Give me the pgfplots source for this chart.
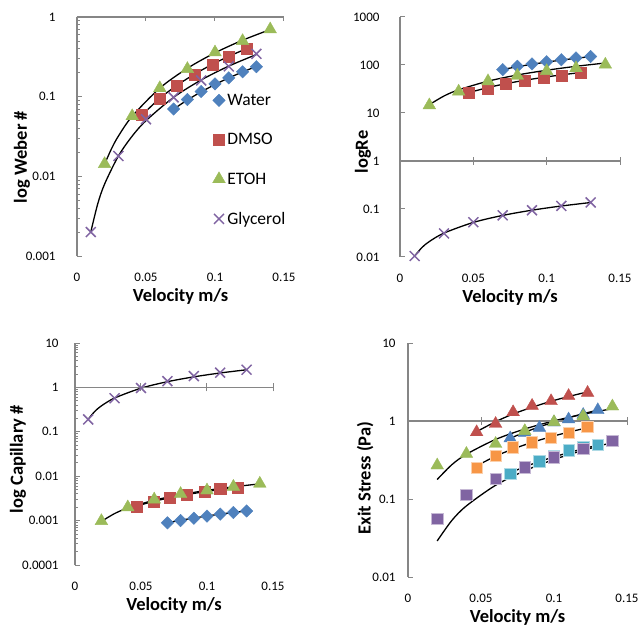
\documentclass[border=0pt]{standalone}
\usepackage{pgfplots}
\pgfplotsset{compat=1.18}
\usepackage{fontspec}
\setmainfont{Carlito}
\definecolor{cW}{HTML}{4F81BD}
\definecolor{cD}{HTML}{C0504D}
\definecolor{cE}{HTML}{9BBB59}
\definecolor{cG}{HTML}{8064A2}
\definecolor{cC}{HTML}{4BACC6}
\definecolor{cO}{HTML}{F79646}
\definecolor{axgrey}{HTML}{868686}
\tikzset{
  hline/.style={axgrey, line width=1.3pt},
  htick/.style={axgrey, line width=1pt},
}
\pgfplotsset{
  mypanel/.style={
    scale only axis, clip=false,
    xmin=0, xmax=0.15,
    axis lines*=left,
    x axis line style={draw=none},
    y axis line style={draw=axgrey, line width=1.3pt},
    x tick style={draw=none},
    y tick style={draw=axgrey, line width=1pt},
    minor y tick style={draw=axgrey, line width=0.8pt},
    tick align=inside,
    major tick length=5pt, minor tick length=3pt,
    xtick={0,0.05,0.1,0.15}, xticklabels={0,0.05,0.1,0.15},
    xticklabel style={anchor=center, yshift=-21pt, font=\fontsize{13pt}{15pt}\selectfont},
    yticklabel style={anchor=east, font=\fontsize{13pt}{15pt}\selectfont},
    xlabel={Velocity m/s},
    xlabel style={at={(axis description cs:0.5,0)}, anchor=center, yshift=-40pt, font=\bfseries\fontsize{18.5pt}{20pt}\selectfont},
    ylabel style={anchor=center, font=\bfseries\fontsize{18.5pt}{20pt}\selectfont},
  },
  sW/.style={only marks, mark=square*, mark size=4.4pt, mark options={rotate=45}, color=cW},
  sD/.style={only marks, mark=square*, mark size=5.5pt, color=cD},
  sE/.style={only marks, mark=triangle*, mark size=7.3pt, color=cE},
  sG/.style={only marks, mark=x, mark size=7pt, color=cG, line width=1.5pt},
  tr/.style={black, line width=1.3pt, smooth, no marks, forget plot},
  bx/.style={only marks, mark=square*, mark size=5.7pt, color=#1, mark options={draw=#1!45!white, line width=0.8pt}},
  tx/.style={only marks, mark=triangle*, mark size=7.3pt, color=#1},
}
\begin{document}
\begin{tikzpicture}
\useasboundingbox (0,0) rectangle (638pt,-628pt);
% ---------------- Panel 1: Weber ----------------
\begin{semilogyaxis}[mypanel, at={(77pt,-256pt)}, anchor=south west, width=207pt, height=239pt,
  ymin=0.001, ymax=1, ytick={0.001,0.01,0.1,1}, yticklabels={0.001,0.01,0.1,1},
  minor ytick={0.002,0.003,0.004,0.005,0.006,0.007,0.008,0.009,0.02,0.03,0.04,0.05,0.06,0.07,0.08,0.09,0.2,0.3,0.4,0.5,0.6,0.7,0.8,0.9},
  yticklabel style={xshift=-18pt},
  ylabel={log Weber \#}, ylabel style={at={(axis description cs:-0.266,0.414)}},
  legend style={at={(axis description cs:0.64,0.695)}, anchor=north west, draw=none, fill=none,
    font=\fontsize{17.5pt}{19pt}\selectfont, row sep=22.5pt},
  legend cell align=left]
\addplot[sW] coordinates {(0.07,0.070)(0.08,0.092)(0.09,0.116)(0.1,0.145)(0.11,0.172)(0.12,0.205)(0.13,0.238)};
\addplot[sD] coordinates {(0.047,0.060)(0.06,0.094)(0.072,0.136)(0.085,0.19)(0.098,0.255)(0.11,0.322)(0.123,0.395)};
\addplot[sE] coordinates {(0.02,0.0143)(0.04,0.057)(0.06,0.128)(0.08,0.223)(0.1,0.36)(0.12,0.5)(0.14,0.70)};
\addplot[sG] coordinates {(0.01,0.002)(0.03,0.018)(0.05,0.052)(0.07,0.098)(0.09,0.16)(0.11,0.24)(0.13,0.345)};
\legend{Water,DMSO,ETOH,Glycerol}
\addplot[tr] coordinates {(0.07,0.0696)(0.08,0.0909)(0.09,0.115)(0.1,0.142)(0.11,0.172)(0.12,0.204)(0.13,0.240)};
\addplot[tr] coordinates {(0.047,0.0585)(0.06,0.0954)(0.072,0.137)(0.085,0.191)(0.098,0.254)(0.11,0.321)(0.123,0.401)};
\addplot[tr] coordinates {(0.02,0.0142)(0.025,0.0222)(0.03,0.032)(0.04,0.0568)(0.06,0.128)(0.08,0.227)(0.1,0.355)(0.12,0.511)(0.14,0.696)};
\addplot[tr] coordinates {(0.01,0.002)(0.015,0.0045)(0.02,0.008)(0.03,0.018)(0.04,0.032)(0.05,0.05)(0.07,0.098)(0.09,0.162)(0.11,0.242)(0.13,0.338)};
\draw[hline] (axis cs:0,1) -- (axis cs:0.15,1);
\draw[htick] (axis cs:0.05,1) -- ([yshift=-4pt]axis cs:0.05,1);
\draw[htick] (axis cs:0.1,1) -- ([yshift=-4pt]axis cs:0.1,1);
\draw[htick] (axis cs:0.15,1) -- ([yshift=-4pt]axis cs:0.15,1);
\end{semilogyaxis}
% ---------------- Panel 2: Reynolds ----------------
\begin{semilogyaxis}[mypanel, at={(400pt,-257pt)}, anchor=south west, width=220pt, height=240pt,
  ymin=0.01, ymax=1000, ytick={0.01,0.1,1,10,100,1000}, yticklabels={0.01,0.1,1,10,100,1000},
  minor y tick style={draw=none},
  yticklabel style={xshift=-17pt},
  ylabel={logRe}, ylabel style={at={(axis description cs:-0.168,0.4375)}}]
\addplot[sW] coordinates {(0.07,80)(0.08,94)(0.09,105)(0.1,117)(0.11,129)(0.12,140)(0.13,150)};
\addplot[sD] coordinates {(0.047,26)(0.06,32)(0.072,40)(0.085,47)(0.098,54)(0.11,60)(0.123,70)};
\addplot[sE] coordinates {(0.02,14.5)(0.04,28)(0.06,46)(0.08,60)(0.1,75)(0.12,86)(0.14,102)};
\addplot[sG] coordinates {(0.01,0.0105)(0.03,0.031)(0.05,0.053)(0.07,0.074)(0.09,0.094)(0.11,0.116)(0.13,0.137)};
\addplot[tr] coordinates {(0.07,80.5)(0.08,92)(0.09,103.5)(0.1,115)(0.11,126.5)(0.12,138)(0.13,149.5)};
\addplot[tr] coordinates {(0.047,26.6)(0.06,33.9)(0.072,40.7)(0.085,48)(0.098,55.4)(0.11,62.2)(0.123,69.5)};
\addplot[tr] coordinates {(0.02,14.9)(0.03,22.6)(0.04,30.4)(0.06,46)(0.08,61.9)(0.1,77.8)(0.12,93.9)(0.14,110)};
\addplot[tr] coordinates {(0.01,0.0105)(0.015,0.0158)(0.02,0.021)(0.03,0.0315)(0.05,0.0525)(0.07,0.0735)(0.09,0.0945)(0.11,0.1155)(0.13,0.1365)};
\draw[hline] (axis cs:0,1) -- (axis cs:0.15,1);
\draw[htick] ([yshift=-4pt]axis cs:0.05,1) -- ([yshift=4pt]axis cs:0.05,1);
\draw[htick] ([yshift=-4pt]axis cs:0.1,1) -- ([yshift=4pt]axis cs:0.1,1);
\draw[htick] ([yshift=-4pt]axis cs:0.15,1) -- ([yshift=4pt]axis cs:0.15,1);
\end{semilogyaxis}
% ---------------- Panel 3: Capillary ----------------
\begin{semilogyaxis}[mypanel, at={(75pt,-565pt)}, anchor=south west, width=198pt, height=222pt,
  ymin=0.0001, ymax=10, ytick={0.0001,0.001,0.01,0.1,1,10}, yticklabels={0.0001,0.001,0.01,0.1,1,10},
  minor ytick={0.0002,0.0003,0.0004,0.0005,0.0006,0.0007,0.0008,0.0009,0.002,0.003,0.004,0.005,0.006,0.007,0.008,0.009,0.02,0.03,0.04,0.05,0.06,0.07,0.08,0.09,0.2,0.3,0.4,0.5,0.6,0.7,0.8,0.9,2,3,4,5,6,7,8,9},
  yticklabel style={xshift=-13pt},
  ylabel={log Capillary \#}, ylabel style={at={(axis description cs:-0.288,0.477)}}]
\addplot[sW] coordinates {(0.07,0.00089)(0.08,0.001)(0.09,0.00113)(0.1,0.00126)(0.11,0.0014)(0.12,0.00152)(0.13,0.00165)};
\addplot[sD] coordinates {(0.047,0.0021)(0.06,0.0027)(0.072,0.0033)(0.085,0.0039)(0.098,0.0045)(0.11,0.0051)(0.123,0.0056)};
\addplot[sE] coordinates {(0.02,0.00098)(0.04,0.002)(0.06,0.003)(0.08,0.004)(0.1,0.0048)(0.12,0.0058)(0.14,0.0068)};
\addplot[sG] coordinates {(0.01,0.19)(0.03,0.57)(0.05,0.97)(0.07,1.38)(0.09,1.8)(0.11,2.15)(0.13,2.5)};
\addplot[tr] coordinates {(0.07,0.00089)(0.08,0.00102)(0.09,0.00114)(0.1,0.00127)(0.11,0.0014)(0.12,0.00152)(0.13,0.00165)};
\addplot[tr] coordinates {(0.047,0.00214)(0.06,0.00273)(0.072,0.00328)(0.085,0.00387)(0.098,0.00446)(0.11,0.005)(0.123,0.0056)};
\addplot[tr] coordinates {(0.02,0.00096)(0.03,0.00144)(0.04,0.00192)(0.06,0.00288)(0.08,0.00384)(0.1,0.0048)(0.12,0.00576)(0.14,0.00672)};
\addplot[tr] coordinates {(0.01,0.192)(0.015,0.288)(0.02,0.384)(0.03,0.576)(0.05,0.96)(0.07,1.344)(0.09,1.728)(0.11,2.112)(0.13,2.496)};
\draw[hline] (axis cs:0,1) -- (axis cs:0.15,1);
\draw[htick] ([yshift=-4pt]axis cs:0.05,1) -- ([yshift=4pt]axis cs:0.05,1);
\draw[htick] ([yshift=-4pt]axis cs:0.1,1) -- ([yshift=4pt]axis cs:0.1,1);
\draw[htick] ([yshift=-4pt]axis cs:0.15,1) -- ([yshift=4pt]axis cs:0.15,1);
\end{semilogyaxis}
% ---------------- Panel 4: Exit stress ----------------
\begin{semilogyaxis}[mypanel, at={(408pt,-577pt)}, anchor=south west, width=219pt, height=234pt,
  ymin=0.01, ymax=10, ytick={0.01,0.1,1,10}, yticklabels={0.01,0.1,1,10},
  minor y tick style={draw=none},
  yticklabel style={xshift=-9pt},
  ylabel={Exit Stress (Pa)}, ylabel style={at={(axis description cs:-0.196,0.423)}}]
\addplot[tx=cD] coordinates {(0.047,0.72)(0.06,0.92)(0.072,1.3)(0.085,1.57)(0.098,1.8)(0.11,2.1)(0.123,2.3)};
\addplot[tx=cW] coordinates {(0.07,0.6)(0.08,0.7)(0.09,0.82)(0.1,0.96)(0.11,1.05)(0.12,1.2)(0.13,1.38)};
\addplot[tx=cE] coordinates {(0.02,0.27)(0.04,0.38)(0.06,0.51)(0.08,0.745)(0.1,0.97)(0.12,1.15)(0.14,1.54)};
\addplot[bx=cO] coordinates {(0.047,0.25)(0.06,0.36)(0.072,0.46)(0.085,0.53)(0.098,0.61)(0.11,0.71)(0.123,0.84)};
\addplot[bx=cC] coordinates {(0.07,0.21)(0.08,0.25)(0.09,0.305)(0.1,0.36)(0.11,0.42)(0.12,0.46)(0.13,0.49)};
\addplot[bx=cG] coordinates {(0.02,0.056)(0.04,0.112)(0.06,0.18)(0.08,0.255)(0.1,0.34)(0.12,0.44)(0.14,0.56)};
\addplot[tr] coordinates {(0.047,0.73)(0.06,0.98)(0.072,1.23)(0.085,1.50)(0.098,1.79)(0.11,2.06)(0.123,2.36)};
\addplot[tr] coordinates {(0.07,0.6)(0.08,0.718)(0.09,0.841)(0.1,0.969)(0.11,1.102)(0.12,1.239)(0.13,1.38)};
\addplot[tr] coordinates {(0.02,0.178)(0.03,0.275)(0.04,0.375)(0.06,0.58)(0.08,0.79)(0.1,1.004)(0.12,1.22)(0.14,1.44)};
\addplot[tr] coordinates {(0.047,0.266)(0.06,0.354)(0.072,0.438)(0.085,0.532)(0.098,0.629)(0.11,0.72)(0.123,0.82)};
\addplot[tr] coordinates {(0.07,0.217)(0.08,0.259)(0.09,0.302)(0.1,0.347)(0.11,0.393)(0.12,0.441)(0.13,0.49)};
\addplot[tr] coordinates {(0.02,0.029)(0.03,0.053)(0.04,0.0816)(0.06,0.150)(0.08,0.230)(0.1,0.321)(0.12,0.421)(0.14,0.53)};
\draw[hline] (axis cs:0,1) -- (axis cs:0.15,1);
\draw[htick] ([yshift=-4pt]axis cs:0.05,1) -- ([yshift=4pt]axis cs:0.05,1);
\draw[htick] ([yshift=-4pt]axis cs:0.1,1) -- ([yshift=4pt]axis cs:0.1,1);
\draw[htick] ([yshift=-4pt]axis cs:0.15,1) -- ([yshift=4pt]axis cs:0.15,1);
\end{semilogyaxis}
\end{tikzpicture}
\end{document}
